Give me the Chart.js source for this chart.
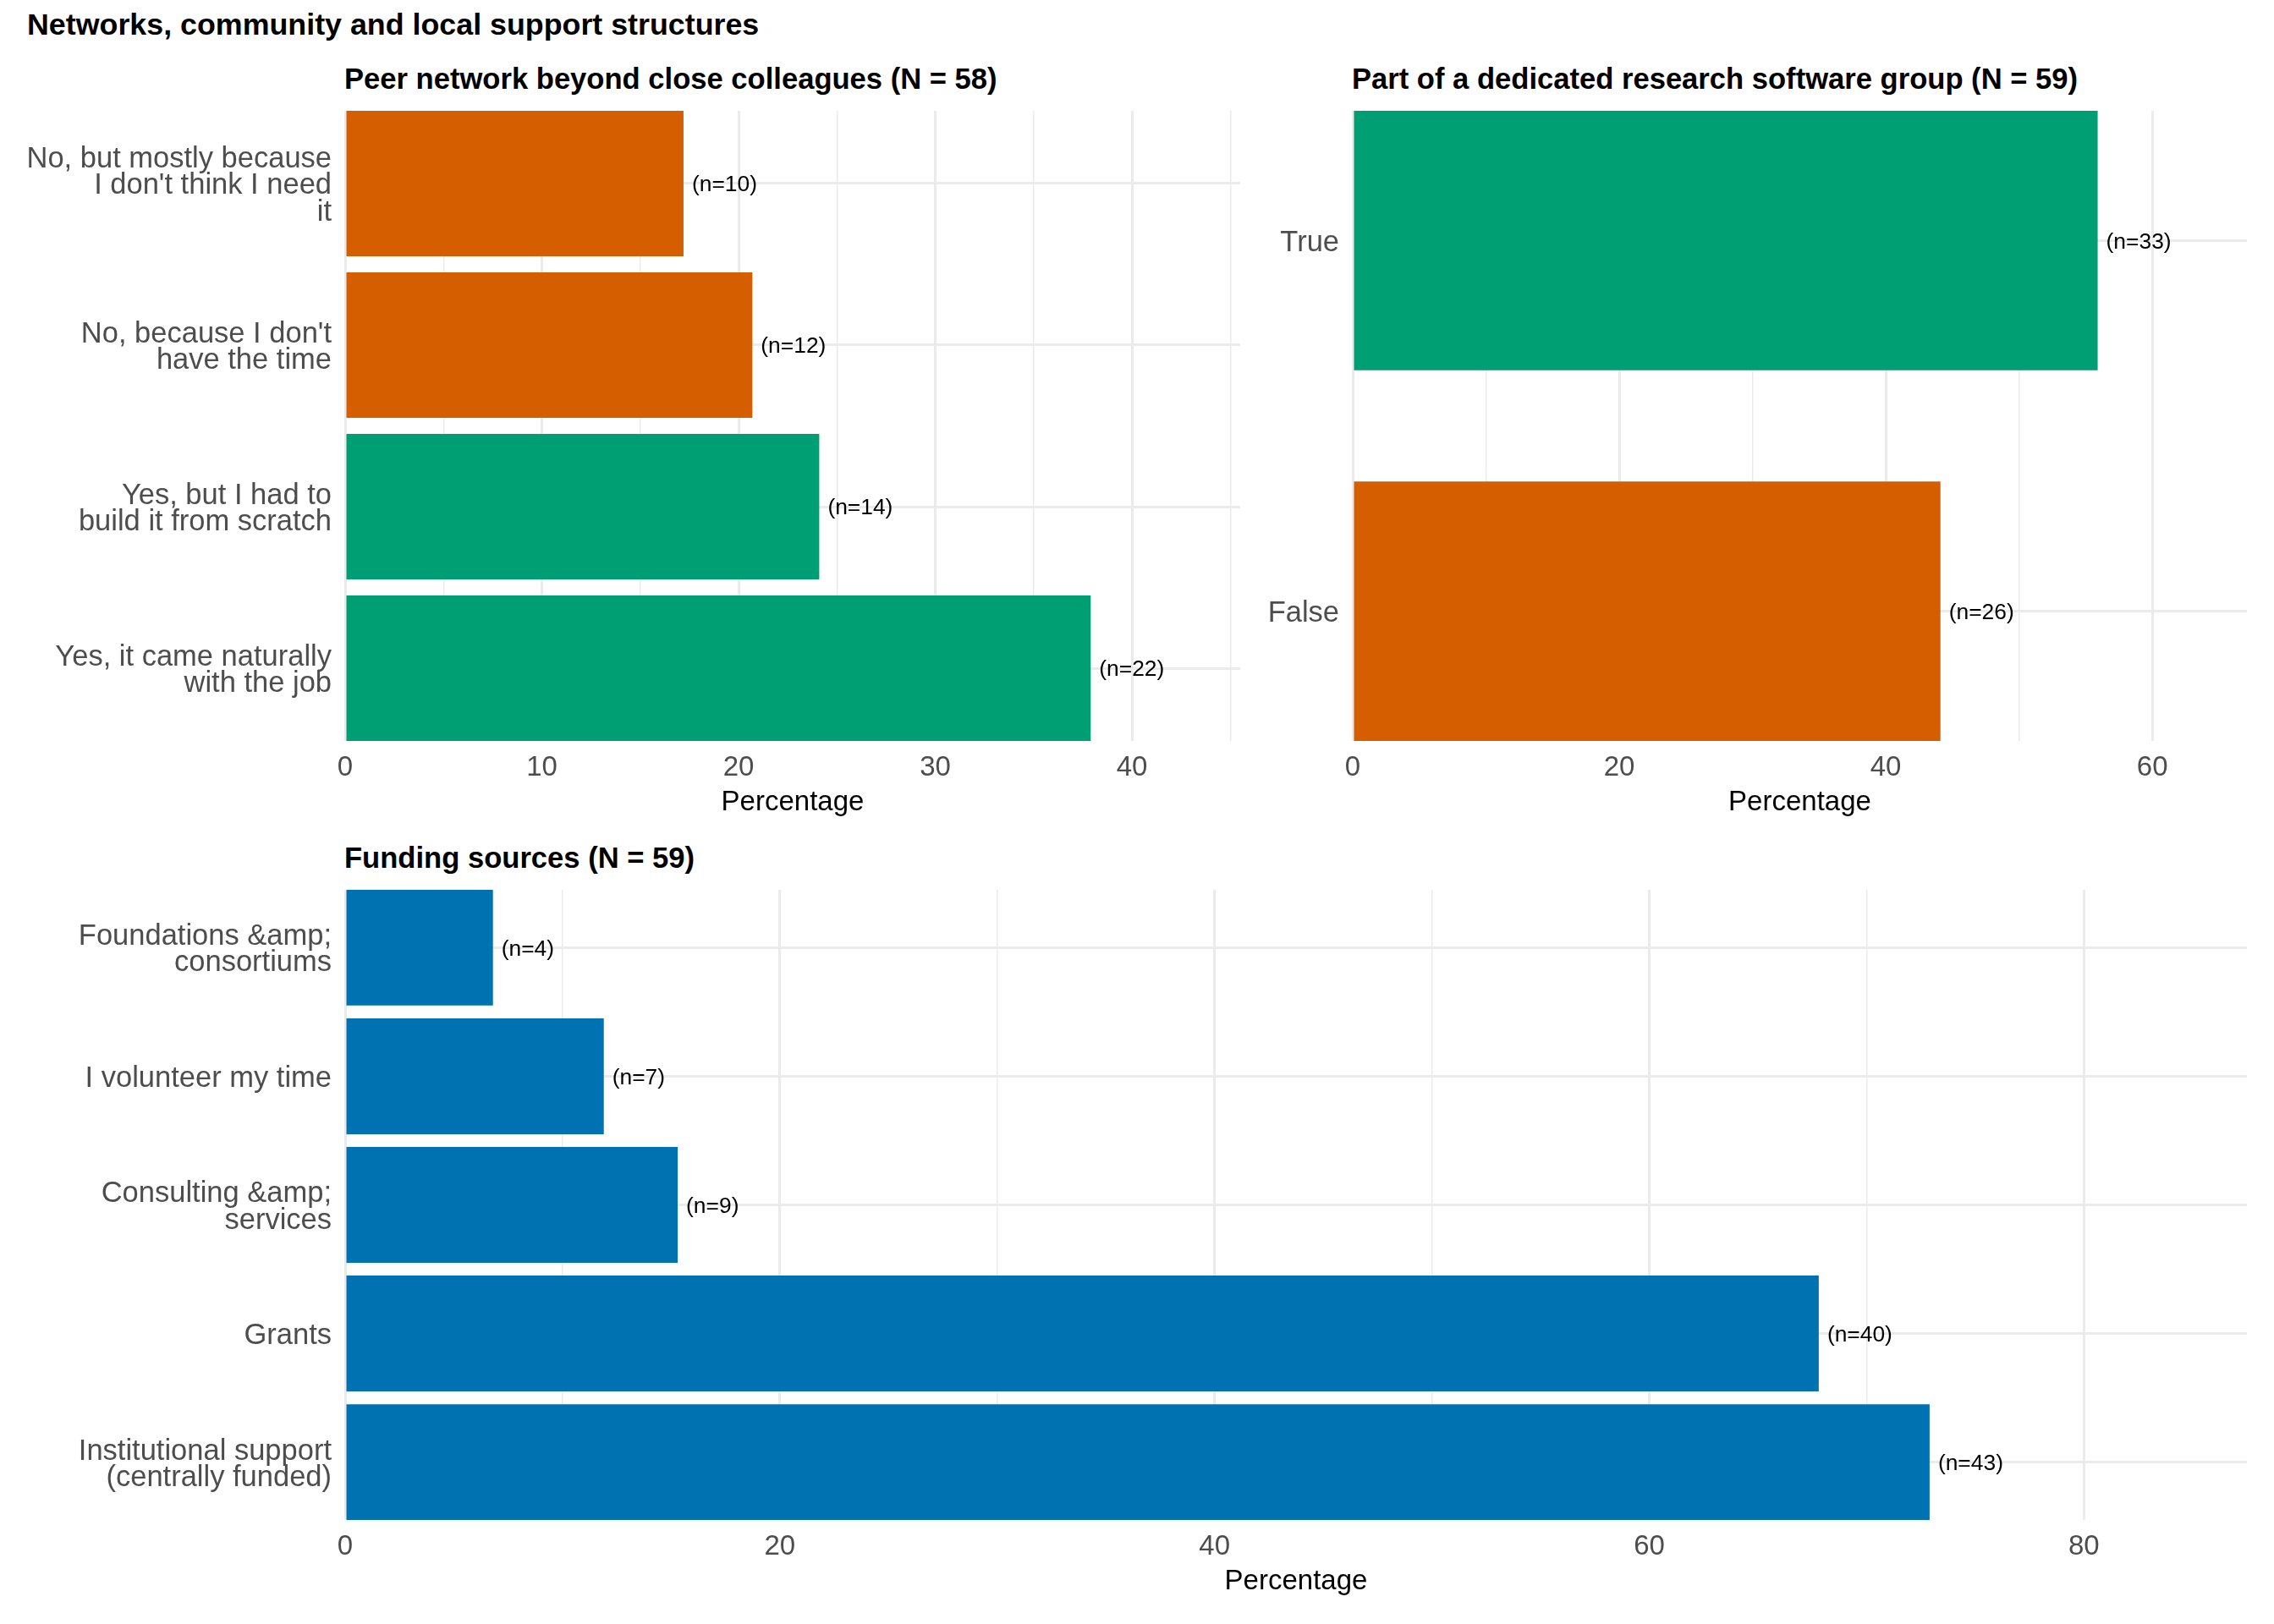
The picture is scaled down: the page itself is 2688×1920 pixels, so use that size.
<!DOCTYPE html>
<html>
<head>
<meta charset="utf-8">
<script src="https://cdn.jsdelivr.net/npm/chart.js@4"></script>
<style>
  html, body { margin: 0; padding: 0; background: #fff; }
  body { width: 2688px; height: 1920px; position: relative; overflow: hidden; font-family: "Liberation Sans", Arial, sans-serif; }
  .ttl { position: absolute; font-weight: bold; color: #000; line-height: 1; white-space: nowrap; }
  .box { position: absolute; }
</style>
</head>
<body>
<div class="ttl" style="left:32px; top:12px; font-size:35.8px;">Networks, community and local support structures</div>
<div class="ttl" style="left:407px; top:76px; font-size:34.6px;">Peer network beyond close colleagues (N = 58)</div>
<div class="ttl" style="left:1598px; top:76px; font-size:34.6px;">Part of a dedicated research software group (N = 59)</div>
<div class="ttl" style="left:407px; top:997px; font-size:34.6px;">Funding sources (N = 59)</div>

<div class="box" style="left:0; top:129px; width:1470px; height:847px;"><canvas id="peer"></canvas></div>
<div class="box" style="left:1400px; top:129px; width:1260px; height:847px;"><canvas id="group"></canvas></div>
<div class="box" style="left:0; top:1050px; width:2660px; height:847px;"><canvas id="funding"></canvas></div>

<script>
// --- data (top to bottom as drawn) ---
var peerCats = [
  ['No, but mostly because', "I don't think I need", 'it'],
  ["No, because I don't", 'have the time'],
  ['Yes, but I had to', 'build it from scratch'],
  ['Yes, it came naturally', 'with the job']
];
var peerPct = [17.2, 20.7, 24.1, 37.9];
var peerN = [10, 12, 14, 22];
var peerCol = ['#D55E00', '#D55E00', '#009E73', '#009E73'];

var groupCats = ['True', 'False'];
var groupPct = [55.9, 44.1];
var groupN = [33, 26];
var groupCol = ['#009E73', '#D55E00'];

var fundCats = [
  ['Foundations &amp;', 'consortiums'],
  'I volunteer my time',
  ['Consulting &amp;', 'services'],
  'Grants',
  ['Institutional support', '(centrally funded)']
];
var fundPct = [6.8, 11.9, 15.3, 67.8, 72.9];
var fundN = [4, 7, 9, 40, 43];
var fundCol = '#0072B2';

var FONT = '"Liberation Sans", Arial, sans-serif';
Chart.defaults.font.family = FONT;
Chart.defaults.animation = false;

// "(n=..)" text just right of each bar
var nLabels = {
  id: 'nLabels',
  afterDatasetsDraw: function(chart, args, opts){
    var ctx = chart.ctx;
    var meta = chart.getDatasetMeta(0);
    ctx.save();
    ctx.font = '26.4px ' + FONT;
    ctx.fillStyle = '#000';
    ctx.textAlign = 'left';
    ctx.textBaseline = 'middle';
    meta.data.forEach(function(bar, i){
      ctx.fillText('(n=' + opts.counts[i] + ')', bar.x + 10, bar.y + 2);
    });
    ctx.restore();
  }
};

function panel(id, cats, vals, counts, colors, o){
  var el = document.getElementById(id);
  var pts = vals.map(function(v, i){ return {x: v, y: i + 1}; });
  return new Chart(el, {
    type: 'bar',
    data: { datasets: [{ data: pts, backgroundColor: colors, barPercentage: o.barPct, categoryPercentage: 1, borderWidth: 0 }] },
    plugins: [nLabels],
    options: {
      indexAxis: 'y',
      responsive: true,
      maintainAspectRatio: false,
      layout: { padding: { top: 2, right: 4, left: 0, bottom: 0 } },
      plugins: { legend: { display: false }, tooltip: { enabled: false }, nLabels: { counts: counts } },
      scales: {
        y: {
          type: 'linear', reverse: true, offset: false,
          min: 1 - o.barPct / 2, max: cats.length + o.barPct / 2,
          afterFit: function(s){ s.width = o.yWidth; s.paddingTop = 0; s.paddingBottom = 0; },
          border: { display: false },
          grid: { offset: false, drawTicks: false, color: '#ebebeb', lineWidth: 3 },
          ticks: {
            stepSize: 1, includeBounds: false, autoSkip: false, padding: 16, labelOffset: 3,
            color: '#4d4d4d', font: { size: 34.5, lineHeight: 0.9 },
            callback: function(v){ return Number.isInteger(v) ? cats[v - 1] : ''; }
          }
        },
        x: {
          type: 'linear', min: 0, max: o.xMax,
          afterFit: function(s){ s.height = 100; },
          border: { display: false },
          grid: { drawTicks: false, color: '#ebebeb',
            lineWidth: function(c){ return c.tick && c.tick.value % o.major === 0 ? 3 : 1.5; } },
          ticks: {
            stepSize: o.step, includeBounds: false, autoSkip: false, maxRotation: 0, padding: 12,
            color: '#4d4d4d', font: { size: 33 },
            callback: function(v){ return v % o.major === 0 ? v : ''; }
          },
          title: { display: true, text: 'Percentage', color: '#000', font: { size: 33 }, padding: { top: 0, bottom: 7 } }
        }
      }
    }
  });
}

panel('peer', peerCats, peerPct, peerN, peerCol, { xMax: 45.5, step: 5, major: 10, barPct: 0.9, yWidth: 408 });
panel('group', groupCats, groupPct, groupN, groupCol, { xMax: 67.1, step: 10, major: 20, barPct: 0.7, yWidth: 199 });
panel('funding', fundCats, fundPct, fundN, fundCol, { xMax: 87.5, step: 10, major: 20, barPct: 0.9, yWidth: 408 });
</script>
</body>
</html>
